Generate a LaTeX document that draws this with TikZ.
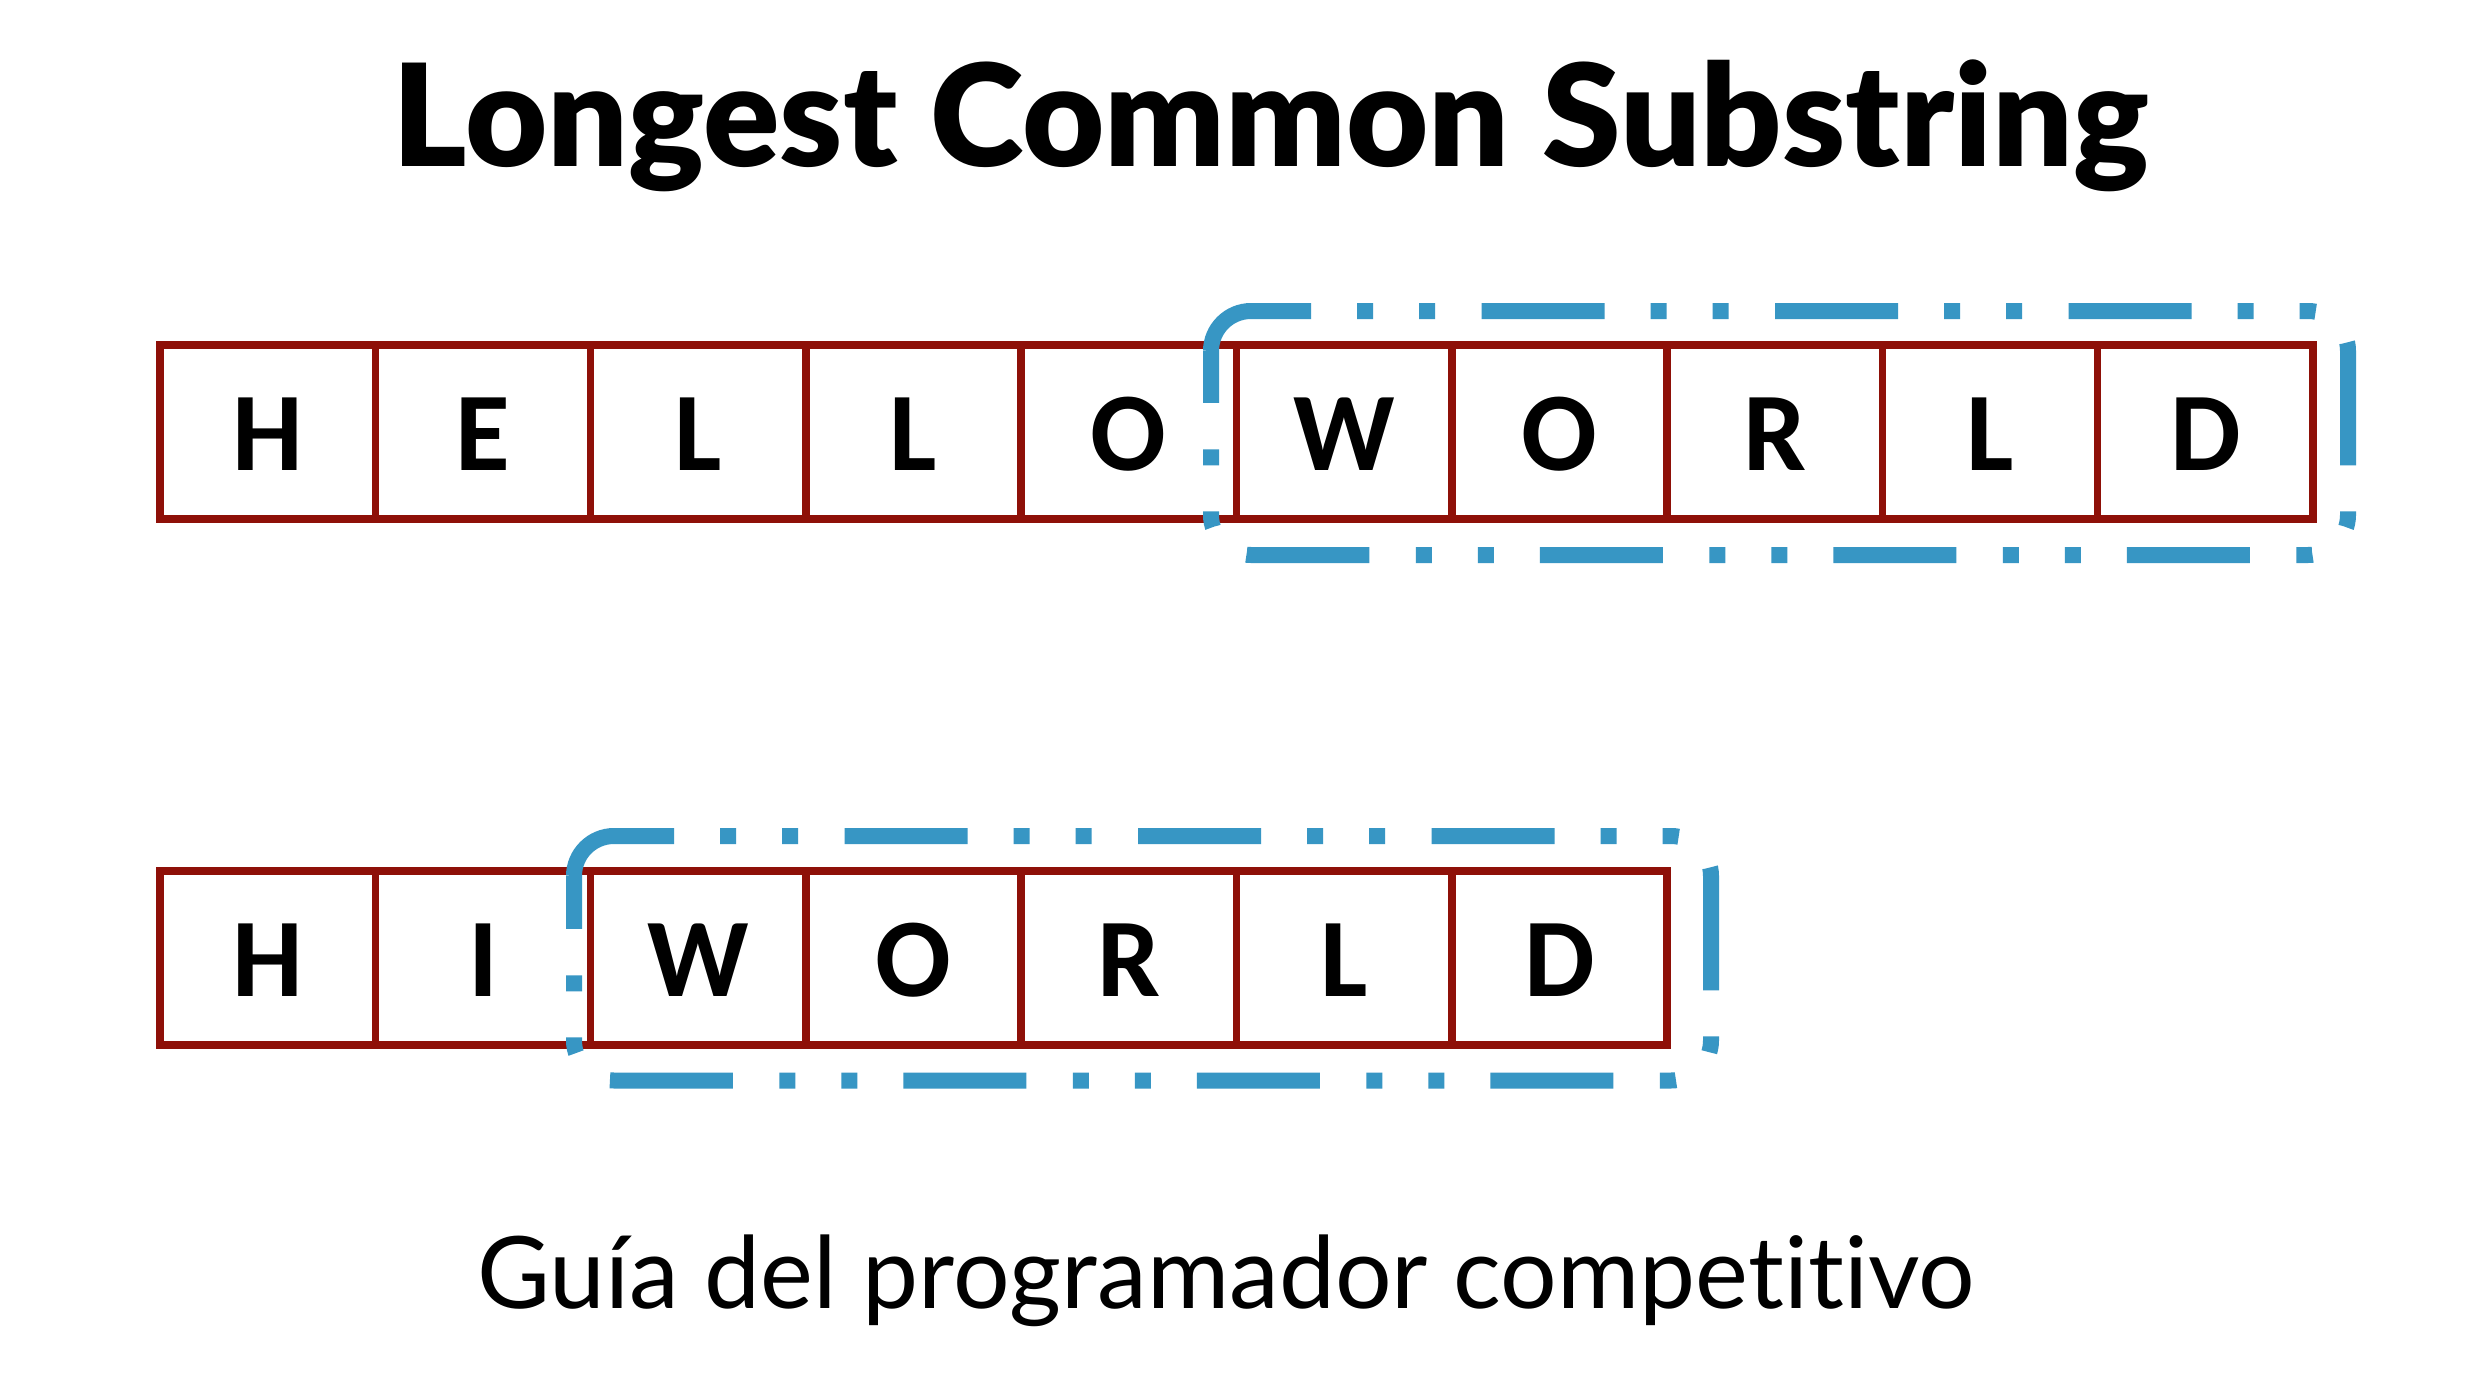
\documentclass[tikz,border=0pt]{standalone}
\usepackage{fontspec}
\setmainfont{Lato}[RawFeature={-liga}]
\newfontfamily\cellfont{Carlito}
\IfFontExistsTF{Lato Black}{\newfontfamily\titlefont{Lato Black}}{\newfontfamily\titlefontA{Lato}\newcommand\titlefont{\titlefontA\bfseries}}
\definecolor{cellred}{RGB}{142,16,8}
\definecolor{hlblue}{RGB}{55,150,196}
\begin{document}
\begin{tikzpicture}[x=1pt,y=-1pt,
  cell/.style={draw=cellred,line width=7.5pt,minimum width=215.3pt,minimum height=174pt,
    inner sep=0pt,outer sep=0pt,text height=77pt,text depth=0pt,
    font=\cellfont\bfseries\fontsize{112}{112}\selectfont},
  hl/.style={draw=hlblue,line width=16pt,
    dash pattern=on 123pt off 46pt on 16pt off 46pt on 16pt off 46.5pt}]
\useasboundingbox (0,0) rectangle (2474,1392);
\fill[white] (0,0) rectangle (2474,1392);
% title
\node[font=\titlefont\fontsize{142}{142}\selectfont,anchor=base,inner sep=0pt] (title) at (1271,166.7) {Longest Common Substring};
% first string
\foreach \c [count=\i from 0] in {H,E,L,L,O,W,O,R,L,D}
  \node[cell] (a\i) at ({160+215.3*(\i+0.5)},432) {\c};
% second string
\foreach \c [count=\i from 0] in {H,I,W,O,R,L,D}
  \node[cell] (b\i) at ({160+215.3*(\i+0.5)},958) {\c};
% highlight boxes (rounded rectangles, dash pattern starting at the upper left)
\coordinate (h1s) at (1211,351);
\draw[hl] (h1s) arc[start angle=180,end angle=90,radius=40pt]
  -- (2308,311) arc[start angle=90,end angle=0,radius=40pt]
  -- (2348,515) arc[start angle=0,end angle=-90,radius=40pt]
  -- (1251,555) arc[start angle=-90,end angle=-180,radius=40pt] -- cycle;
\coordinate (h2s) at (574,876);
\draw[hl] (h2s) arc[start angle=180,end angle=90,radius=40pt]
  -- (1671,836) arc[start angle=90,end angle=0,radius=40pt]
  -- (1711,1040.5) arc[start angle=0,end angle=-90,radius=40pt]
  -- (614,1080.5) arc[start angle=-90,end angle=-180,radius=40pt] -- cycle;
% subtitle
\node[font=\fontsize{100}{100}\selectfont,anchor=base,inner sep=0pt] (sub) at (1226,1308) {Guía del programador competitivo};
\end{tikzpicture}
\end{document}
